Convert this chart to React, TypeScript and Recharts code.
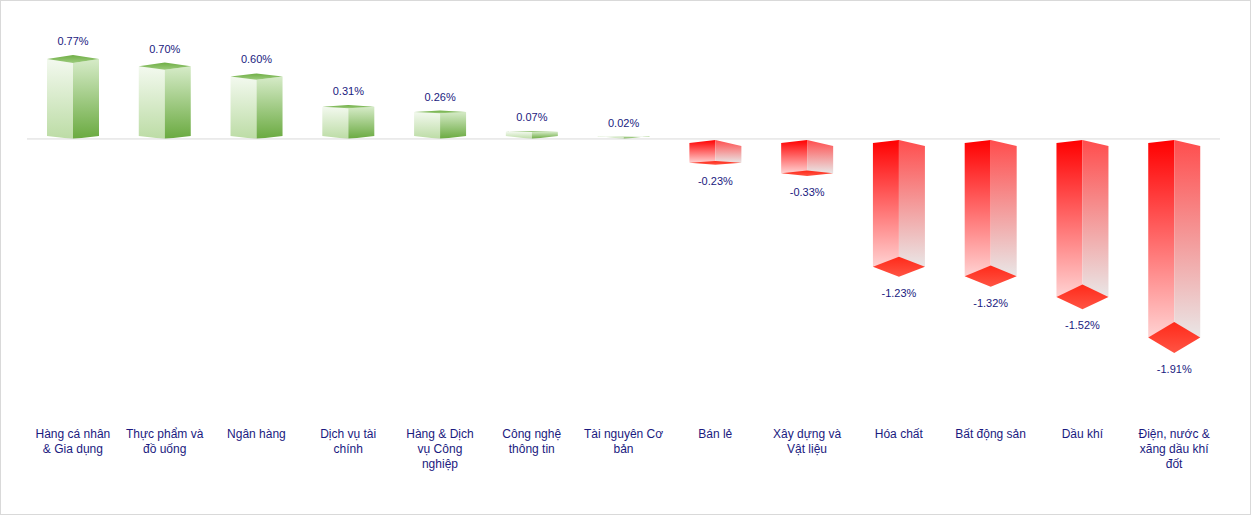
import { BarChart, Bar, XAxis, YAxis, ReferenceLine, LabelList } from "recharts";

const categories = [
  "Hàng cá nhân\n& Gia dụng",
  "Thực phẩm và\nđồ uống",
  "Ngân hàng",
  "Dịch vụ tài\nchính",
  "Hàng & Dịch\nvụ Công\nnghiệp",
  "Công nghệ\nthông tin",
  "Tài nguyên Cơ\nbản",
  "Bán lẻ",
  "Xây dựng và\nVật liệu",
  "Hóa chất",
  "Bất động sản",
  "Dầu khí",
  "Điện, nước &\nxăng dầu khí\nđốt",
];

const changes = [0.77, 0.7, 0.6, 0.31, 0.26, 0.07, 0.02, -0.23, -0.33, -1.23, -1.32, -1.52, -1.91];

const data = categories.map((name, i) => ({ name, value: changes[i] }));

const TEXT = "#1a1a80";
const FONT = "'Liberation Sans', Arial, sans-serif";

// bar geometry shared by the shape and the value labels
function geom(p: any) {
  const top = Math.min(p.y, p.y + p.height);
  const bot = Math.max(p.y, p.y + p.height);
  const neg = (p.payload?.value ?? p.value) < 0;
  const z = neg ? top : bot;
  const b = neg ? bot : top;
  const d = Math.abs(b - z) * (neg ? 0.078 : 0.05);
  return { neg, z, b, d };
}

function Box(props: any) {
  const { x, width } = props;
  const { neg, z, b, d } = geom(props);
  const xm = x + width / 2;
  const xr = x + width;
  if (neg) {
    return (
      <g>
        <polygon points={`${x},${z + 4} ${xm},${z + 1} ${xm},${b} ${x},${b}`} fill="url(#negFront)" />
        <polygon points={`${xm},${z + 1} ${xr},${z + 7} ${xr},${b} ${xm},${b}`} fill="url(#negSide)" />
        <polygon points={`${x},${b} ${xm},${b - d} ${xr},${b} ${xm},${b + d}`} fill="url(#negCap)" />
      </g>
    );
  }
  return (
    <g>
      <polygon points={`${x},${b} ${xm},${b + d} ${xm},${z} ${x},${z - 3}`} fill="url(#posFront)" />
      <polygon points={`${xm},${b + d} ${xr},${b} ${xr},${z - 3} ${xm},${z}`} fill="url(#posSide)" />
      <polygon points={`${x},${b} ${xm},${b - d} ${xr},${b} ${xm},${b + d}`} fill="url(#posCap)" />
    </g>
  );
}

function ValueLabel(props: any) {
  const { x, width, value } = props;
  const { neg, b, d } = geom({ ...props, payload: { value } });
  const ty = neg ? b + d + 20 : b - d - 10;
  return (
    <text x={x + width / 2} y={ty} textAnchor="middle" fill={TEXT} fontSize={11} fontFamily={FONT}>
      {value.toFixed(2)}%
    </text>
  );
}

function CategoryTick({ x, y, payload }: any) {
  const lines = String(payload.value).split("\n");
  return (
    <text x={x} y={y} textAnchor="middle" fill={TEXT} fontSize={12} fontFamily={FONT}>
      {lines.map((l, i) => (
        <tspan key={i} x={x} dy={i === 0 ? 0 : 15}>
          {l}
        </tspan>
      ))}
    </text>
  );
}

export default function App() {
  return (
    <div style={{ width: 1251, height: 515, border: "1px solid #d9d9d9", boxSizing: "border-box", background: "#fff" }}>
      <style>{`body{margin:0}`}</style>
      <BarChart width={1249} height={513} data={data} margin={{ top: 34, right: 30, bottom: 0, left: 26 }} barSize={52}>
        <defs>
          <linearGradient id="posFront" x1="0" y1="0" x2="0" y2="1">
            <stop offset="0%" stopColor="#f3f9ef" />
            <stop offset="100%" stopColor="#bcdca5" />
          </linearGradient>
          <linearGradient id="posSide" x1="0" y1="0" x2="0" y2="1">
            <stop offset="0%" stopColor="#d6ebc8" />
            <stop offset="100%" stopColor="#6aaa40" />
          </linearGradient>
          <linearGradient id="posCap" x1="0" y1="0" x2="0" y2="1">
            <stop offset="0%" stopColor="#6fae45" />
            <stop offset="100%" stopColor="#9ccb7c" />
          </linearGradient>
          <linearGradient id="negFront" x1="0" y1="0" x2="0" y2="1">
            <stop offset="0%" stopColor="#ff0000" />
            <stop offset="100%" stopColor="#ffd2d2" />
          </linearGradient>
          <linearGradient id="negSide" x1="0" y1="0" x2="0" y2="1">
            <stop offset="0%" stopColor="#ff4d4d" />
            <stop offset="100%" stopColor="#e9e6e6" />
          </linearGradient>
          <linearGradient id="negCap" x1="0" y1="0" x2="0" y2="1">
            <stop offset="0%" stopColor="#ff2a1a" />
            <stop offset="100%" stopColor="#ff5444" />
          </linearGradient>
        </defs>
        <XAxis dataKey="name" axisLine={false} tickLine={false} height={84} interval={0} tick={<CategoryTick />} />
        <YAxis hide domain={[-2.8, 1]} />
        <ReferenceLine y={0} stroke="#d9d9d9" strokeWidth={1} />
        <Bar dataKey="value" shape={<Box />} isAnimationActive={false}>
          <LabelList dataKey="value" content={<ValueLabel />} />
        </Bar>
      </BarChart>
    </div>
  );
}
